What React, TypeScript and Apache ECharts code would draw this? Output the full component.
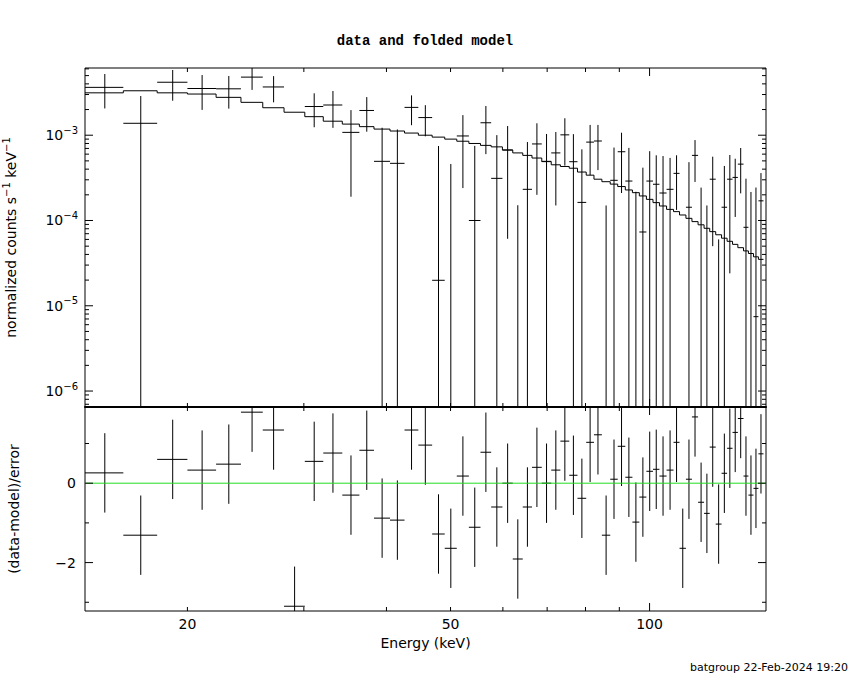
import React, { useEffect, useRef } from "react";
import * as echarts from "echarts";

// Energy bin edges (keV), 59 bins
const binEdges = [
  14.0, 16.0, 18.0, 20.0, 22.1, 24.1, 26.0, 28.0, 30.1, 32.1, 34.3, 36.4, 38.3,
  40.5, 42.6, 44.7, 46.9, 49.0, 51.1, 53.3, 55.5, 57.6, 59.9, 62.1, 64.3, 66.4,
  68.7, 71.0, 73.3, 75.6, 77.8, 80.2, 82.4, 84.7, 87.2, 89.5, 91.9, 94.2, 96.5,
  98.9, 101.2, 103.5, 106.1, 108.7, 111.0, 113.5, 115.9, 118.4, 120.9, 123.3,
  125.9, 128.5, 131.0, 133.5, 136.0, 138.7, 141.1, 143.6, 146.1, 148.7,
];

// normalized counts s^-1 keV^-1
const rate = [
  3.64e-3, 1.38e-3, 4.18e-3, 3.53e-3, 3.5e-3, 4.8e-3, 3.68e-3, -1.26e-3, 2.17e-3, 2.26e-3,
  1.08e-3, 1.95e-3, 4.94e-4, 4.68e-4, 2.12e-3, 1.61e-3, 1.99e-5, -2.3e-4, 9.8e-4, 1.0e-4,
  1.4e-3, 3.12e-4, 6.71e-4, -3.64e-4, 2.32e-4, 7.9e-4, 4.94e-4, 6.2e-4, 1.01e-3, 4.89e-4,
  1.63e-4, 8.3e-4, 8.55e-4, -3.4e-4, 2.96e-4, 6.4e-4, 2.9e-4, -3.3e-5, 7.33e-5, 2.9e-4,
  2.66e-4, 2.1e-4, 2.32e-4, 3.57e-4, -2.12e-4, 1.43e-4, 5.8e-4, -1.3e-5, -1.4e-4, 3.05e-4,
  -1.8e-4, 1.43e-4, 3.05e-4, 3.2e-4, 4.58e-4, 8.32e-5, -3.4e-5, 7.45e-6, 1.7e-4,
];

const rateErr = [
  1.58e-3, 1.5e-3, 1.64e-3, 1.55e-3, 1.45e-3, 1.4e-3, 1.25e-3, 1.0e-3, 9.3e-4, 1.04e-3,
  8.9e-4, 8.5e-4, 7.3e-4, 7.0e-4, 8.1e-4, 6.4e-4, 7.27e-4, 6.9e-4, 7.4e-4, 6.5e-4,
  8.0e-4, 6.9e-4, 6.1e-4, 5.15e-4, 6.0e-4, 5.9e-4, 5.4e-4, 4.7e-4, 5.7e-4, 5.4e-4,
  5.2e-4, 4.9e-4, 4.65e-4, 4.9e-4, 4.2e-4, 4.3e-4, 4.2e-4, 2.5e-4, 3.43e-4, 3.6e-4,
  3.15e-4, 3.6e-4, 3.1e-4, 2.24e-4, 2.0e-4, 3.4e-4, 2.97e-4, 2.56e-4, 2.9e-4, 2.55e-4,
  2.4e-4, 2.93e-4, 2.81e-4, 2.1e-4, 2.5e-4, 2.26e-4, 2.5e-4, 2.36e-4, 1.9e-4,
];

const model = [
  3.14e-3, 3.32e-3, 3.14e-3, 3.04e-3, 2.78e-3, 2.43e-3, 2.1e-3, 1.86e-3, 1.65e-3, 1.46e-3,
  1.35e-3, 1.26e-3, 1.18e-3, 1.12e-3, 1.06e-3, 1.0e-3, 9.5e-4, 9.0e-4, 8.5e-4, 8.0e-4,
  7.6e-4, 7.3e-4, 6.7e-4, 6.2e-4, 5.8e-4, 5.4e-4, 4.9e-4, 4.5e-4, 4.3e-4, 4.1e-4,
  3.7e-4, 3.4e-4, 3.05e-4, 2.85e-4, 2.67e-4, 2.5e-4, 2.28e-4, 2.12e-4, 1.94e-4, 1.77e-4,
  1.62e-4, 1.48e-4, 1.35e-4, 1.27e-4, 1.16e-4, 1.06e-4, 9.7e-5, 8.9e-5, 8.1e-5, 7.4e-5,
  6.8e-5, 6.2e-5, 5.7e-5, 5.25e-5, 4.8e-5, 4.4e-5, 4.1e-5, 3.75e-5, 3.5e-5,
];

// (data-model)/error
const resid = [
  0.26, -1.31, 0.6, 0.33, 0.48, 1.79, 1.34, -3.1, 0.55, 0.76,
  -0.3, 0.83, -0.88, -0.93, 1.34, 0.96, -1.28, -1.64, 0.18, -1.11,
  0.78, -0.6, 0.0, -1.91, -0.6, 0.4, 0.0, 0.33, 1.06, 0.2,
  -0.38, 1.03, 1.22, -1.31, 0.1, 0.93, 0.15, -0.98, -0.35, 0.3,
  0.35, 0.18, 0.33, 1.03, -1.64, 0.1, 1.67, -0.48, -0.76, 0.91,
  -1.03, 0.25, 0.88, 1.28, 1.63, 0.18, -0.3, -0.13, 0.74,
];

const xMajorTicks = [100];
const xMinorTicks = [20, 30, 40, 50, 60, 70, 80, 90];
const xTickLabels = [20, 50, 100];
const yDecades = [1e-7, 1e-6, 1e-5, 1e-4, 1e-3];
const residMajor = [-2, 0];
const residMinor = [-3, -1, 1];
const residLabels = [-2, 0];

const X_MIN = 14;
const X_MAX = 150;
const Y_MIN = 6.5e-7;
const Y_MAX = 6.14e-3;
const R_MIN = -3.22;
const R_MAX = 1.92;

const SANS = '"DejaVu Sans", sans-serif';

function seg(ch: any[], x1: number, y1: number, x2: number, y2: number) {
  ch.push({
    type: "line",
    shape: { x1, y1, x2, y2 },
    style: { stroke: "#000", lineWidth: 1 },
  });
}

export default function App() {
  const ref = useRef<HTMLDivElement>(null);

  useEffect(() => {
    if (!ref.current) return;
    const chart = echarts.init(ref.current, null, { renderer: "svg" });

    const mids = rate.map((_, i) => (binEdges[i] + binEdges[i + 1]) / 2);
    const topData = rate.map((v, i) => [mids[i], rateErr[i], binEdges[i], binEdges[i + 1], v]);
    const botData = resid.map((r, i) => [mids[i], r, binEdges[i], binEdges[i + 1]]);
    const modelLine: number[][] = [];
    model.forEach((m, i) => {
      modelLine.push([binEdges[i], m]);
      modelLine.push([binEdges[i + 1], m]);
    });

    const minorLog: { v: number; major: boolean }[] = [];
    yDecades.forEach((d) => {
      for (let k = 1; k <= 9; k++) {
        const v = k * d;
        if (v > Y_MIN && v < Y_MAX) minorLog.push({ v, major: k === 1 });
      }
    });

    const frameTop = (params: any, api: any) => {
      const cs = params.coordSys;
      const L = cs.x, R = cs.x + cs.width, T = cs.y, B = cs.y + cs.height;
      const ch: any[] = [];
      const xt = (v: number, len: number) => {
        const px = api.coord([v, 1e-4])[0];
        seg(ch, px, B, px, B - len);
        seg(ch, px, T, px, T + len);
      };
      xMajorTicks.forEach((v) => xt(v, 8));
      xMinorTicks.forEach((v) => xt(v, 4));
      minorLog.forEach((t) => {
        const py = api.coord([20, t.v])[1];
        const len = t.major ? 8 : 4;
        seg(ch, L, py, L + len, py);
        seg(ch, R, py, R - len, py);
      });
      return { type: "group", children: ch };
    };

    const frameBot = (params: any, api: any) => {
      const cs = params.coordSys;
      const L = cs.x, R = cs.x + cs.width, T = cs.y, B = cs.y + cs.height;
      const ch: any[] = [];
      const xt = (v: number, len: number) => {
        const px = api.coord([v, 0])[0];
        seg(ch, px, B, px, B - len);
        seg(ch, px, T, px, T + len);
      };
      xMajorTicks.forEach((v) => xt(v, 8));
      xMinorTicks.forEach((v) => xt(v, 4));
      const yt = (v: number, len: number) => {
        const py = api.coord([20, v])[1];
        seg(ch, L, py, L + len, py);
        seg(ch, R, py, R - len, py);
      };
      residMajor.forEach((v) => yt(v, 8));
      residMinor.forEach((v) => yt(v, 4));
      xTickLabels.forEach((v) => {
        const px = api.coord([v, 0])[0];
        ch.push({
          type: "text",
          x: px,
          y: B + 13,
          style: {
            text: String(v),
            fill: "#000",
            font: `14px ${SANS}`,
            textAlign: "center",
            textVerticalAlign: "middle",
            align: "center",
            verticalAlign: "middle",
          },
        });
      });
      return { type: "group", children: ch };
    };

    const crossTop = (params: any, api: any) => {
      const mid = api.value(0);
      const err = api.value(1);
      const lo = api.value(2);
      const hi = api.value(3);
      const v = api.value(4);
      const top = v + err;
      const bot = v - err;
      const ch: any[] = [];
      if (top > Y_MIN) {
        const t = Math.min(top, Y_MAX);
        const b = Math.max(bot, Y_MIN);
        const p1 = api.coord([mid, t]);
        const p2 = api.coord([mid, b]);
        seg(ch, p1[0], p1[1], p2[0], p2[1]);
        if (v > Y_MIN && v < Y_MAX) {
          const a = api.coord([lo, v]);
          const c = api.coord([hi, v]);
          seg(ch, a[0], a[1], c[0], c[1]);
        }
      }
      return { type: "group", children: ch };
    };

    const crossBot = (params: any, api: any) => {
      const mid = api.value(0);
      const r = api.value(1);
      const lo = api.value(2);
      const hi = api.value(3);
      const ch: any[] = [];
      const t = Math.min(r + 1, R_MAX);
      const b = Math.max(r - 1, R_MIN);
      const p1 = api.coord([mid, t]);
      const p2 = api.coord([mid, b]);
      seg(ch, p1[0], p1[1], p2[0], p2[1]);
      if (r > R_MIN && r < R_MAX) {
        const a = api.coord([lo, r]);
        const c = api.coord([hi, r]);
        seg(ch, a[0], a[1], c[0], c[1]);
      }
      return { type: "group", children: ch };
    };

    const supRich = {
      b: { fontSize: 14, fontFamily: SANS, color: "#000" },
      s: { fontSize: 10, fontFamily: SANS, color: "#000", padding: [0, 0, 10, 0] },
    };

    const option: any = {
      animation: false,
      backgroundColor: "#fff",
      title: {
        text: "data and folded model",
        left: "center",
        top: 29,
        textStyle: {
          fontFamily: '"Liberation Mono", monospace',
          fontWeight: "bold",
          fontSize: 14,
          color: "#000",
        },
      },
      grid: [
        { left: 85, top: 68, width: 681, height: 339, show: true, borderColor: "#000", borderWidth: 1, outerBoundsMode: "none" },
        { left: 85, top: 407, width: 681, height: 204, show: true, borderColor: "#000", borderWidth: 1, outerBoundsMode: "none" },
      ],
      xAxis: [
        {
          gridIndex: 0,
          type: "log",
          logBase: 10,
          min: X_MIN,
          max: X_MAX,
          axisLine: { show: true, onZero: false, lineStyle: { color: "#000", width: 2 } },
          axisTick: { show: false },
          axisLabel: { show: false },
          splitLine: { show: false },
          minorTick: { show: false },
        },
        {
          gridIndex: 1,
          type: "log",
          logBase: 10,
          min: X_MIN,
          max: X_MAX,
          axisLine: { show: false },
          axisTick: { show: false },
          axisLabel: { show: false },
          splitLine: { show: false },
          name: "Energy (keV)",
          nameLocation: "middle",
          nameGap: 25,
          nameTextStyle: { fontFamily: SANS, fontSize: 14, color: "#000" },
        },
      ],
      yAxis: [
        {
          gridIndex: 0,
          type: "log",
          logBase: 10,
          min: Y_MIN,
          max: Y_MAX,
          axisLine: { show: false },
          axisTick: { show: false },
          splitLine: { show: false },
          axisLabel: {
            margin: 7,
            formatter: (val: number) => {
              const l = Math.log10(val);
              const e = Math.round(l);
              if (Math.abs(l - e) > 1e-6) return "";
              return `{b|10}{s|−${-e}}`;
            },
            rich: supRich,
          },
          name: "normalized counts s{s|−1} keV{s|−1}",
          nameLocation: "middle",
          nameGap: 64,
          nameRotate: 90,
          nameTextStyle: { fontFamily: SANS, fontSize: 14, color: "#000", rich: supRich },
        },
        {
          gridIndex: 1,
          type: "value",
          min: R_MIN,
          max: R_MAX,
          axisLine: { show: false },
          axisTick: { show: false },
          splitLine: { show: false },
          axisLabel: {
            margin: 9,
            fontFamily: SANS,
            fontSize: 14,
            color: "#000",
            formatter: (val: number) => {
              const hit = residLabels.find((l) => Math.abs(l - val) < 1e-6);
              if (hit === undefined) return "";
              return hit < 0 ? `−${-hit}` : String(hit);
            },
          },
          name: "(data-model)/error",
          nameLocation: "middle",
          nameGap: 64,
          nameRotate: 90,
          nameTextStyle: { fontFamily: SANS, fontSize: 14, color: "#000" },
        },
      ],
      graphic: [
        {
          type: "text",
          right: 2,
          top: 662,
          style: {
            text: "batgroup 22-Feb-2024 19:20",
            fill: "#000",
            font: `11px ${SANS}`,
          },
        },
      ],
      series: [
        {
          type: "line",
          xAxisIndex: 0,
          yAxisIndex: 0,
          data: modelLine,
          showSymbol: false,
          symbol: "none",
          lineStyle: { color: "#000", width: 1 },
          z: 3,
          silent: true,
        },
        {
          type: "custom",
          xAxisIndex: 0,
          yAxisIndex: 0,
          dimensions: ["mid", "err", "lo", "hi", "v"],
          encode: { x: 0, y: 1 },
          data: topData,
          renderItem: crossTop,
          clip: true,
          z: 4,
          silent: true,
        },
        {
          type: "custom",
          xAxisIndex: 0,
          yAxisIndex: 0,
          data: [[20, 1e-4]],
          encode: { x: 0, y: 1 },
          renderItem: frameTop,
          clip: false,
          z: 10,
          silent: true,
        },
        {
          type: "custom",
          xAxisIndex: 1,
          yAxisIndex: 1,
          dimensions: ["mid", "r", "lo", "hi"],
          encode: { x: 0, y: 1 },
          data: botData,
          renderItem: crossBot,
          clip: true,
          z: 4,
          silent: true,
        },
        {
          type: "line",
          xAxisIndex: 1,
          yAxisIndex: 1,
          data: [[X_MIN, 0], [X_MAX, 0]],
          showSymbol: false,
          symbol: "none",
          lineStyle: { color: "#22dd22", width: 1 },
          z: 6,
          silent: true,
        },
        {
          type: "custom",
          xAxisIndex: 1,
          yAxisIndex: 1,
          data: [[20, 0]],
          encode: { x: 0, y: 1 },
          renderItem: frameBot,
          clip: false,
          z: 10,
          silent: true,
        },
      ],
    };

    chart.setOption(option);
    return () => chart.dispose();
  }, []);

  return (
    <div
      ref={ref}
      style={{ position: "absolute", left: 0, top: 0, width: 850, height: 680, background: "#fff" }}
    />
  );
}
